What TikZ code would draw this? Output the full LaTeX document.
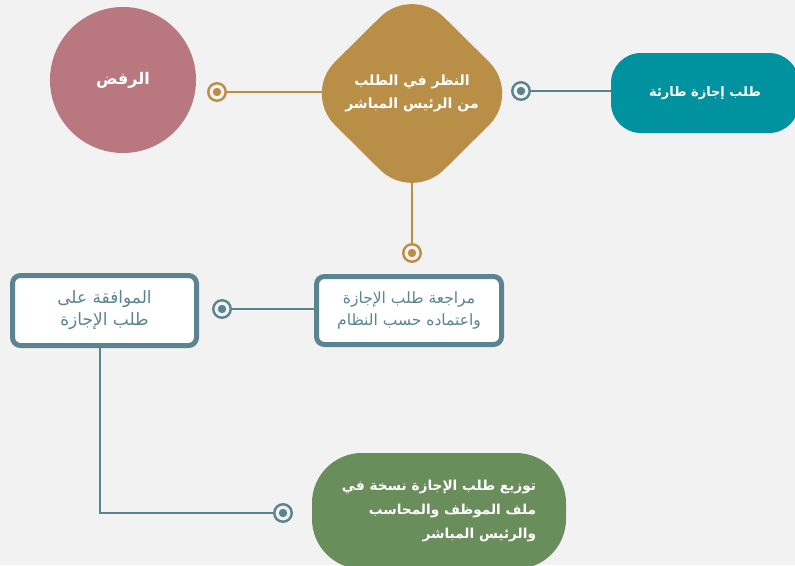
\documentclass[tikz,border=0pt]{standalone}
\usepackage{fontspec}
\newfontfamily\arabicfont[Script=Arabic]{DejaVu Sans}
\TeXXeTstate=1
\usetikzlibrary{shapes.geometric}
\pgfdeclarelayer{canvas}
\pgfdeclarelayer{edges}
\pgfsetlayers{canvas,edges,main}

\definecolor{bgc}{HTML}{F2F2F2}
\definecolor{rose}{HTML}{B97880}
\definecolor{gold}{HTML}{B98F48}
\definecolor{tealc}{HTML}{00939F}
\definecolor{slate}{HTML}{5B8491}
\definecolor{olive}{HTML}{6A8E5B}

\newcommand\rl[1]{\beginR #1\endR}

\tikzset{
  solidshape/.style={fill=#1, text=white, font=\arabicfont\bfseries\fontsize{14}{23}\selectfont, align=center, inner sep=0pt},
  outlinebox/.style={draw=slate, line width=5pt, fill=white, rounded corners=8pt, text=slate,
    font=\arabicfont\fontsize{15.5}{22}\selectfont, align=center, inner sep=0pt},
  marker/.style={circle, draw=#1, line width=2.4pt, fill=bgc, minimum size=17.5pt, inner sep=0pt,
    path picture={\fill[#1] (path picture bounding box.center) circle (4.2pt);}},
  conn/.style={draw=#1, line width=2pt}
}

\begin{document}
\begin{tikzpicture}[x=1pt,y=-1pt]
\useasboundingbox (0,0) rectangle (795,565);
\begin{pgfonlayer}{canvas}
  \fill[bgc] (0,0) rectangle (795,565);
\end{pgfonlayer}
\clip (0,0) rectangle (795,565);

% coloured stages
\node[solidshape=rose, circle, minimum size=146pt, font=\arabicfont\bfseries\fontsize{16}{20}\selectfont]
  (reject) at (123,80) {\rl{الرفض}};
\node[solidshape=gold, diamond, minimum width=218pt, minimum height=216pt, rounded corners=45pt]
  (review) at (412,93.5) {\rl{النظر في الطلب}\\\rl{من الرئيس المباشر}};
\node[solidshape=tealc, rectangle, minimum width=188pt, minimum height=80pt, rounded corners=30pt,
  font=\arabicfont\bfseries\fontsize{13}{20}\selectfont]
  (request) at (705,93) {\rl{طلب إجازة طارئة}};
\node[solidshape=olive, rectangle, minimum width=254pt, minimum height=116pt, rounded corners=50pt, align=right,
  font=\arabicfont\bfseries\fontsize{13.7}{24}\selectfont]
  (distribute) at (439,511) {\rl{توزيع طلب الإجازة نسخة في}\\\rl{ملف الموظف والمحاسب}\\\rl{والرئيس المباشر}};

% outlined stages
\node[outlinebox, minimum width=185pt, minimum height=68pt] (check) at (409,310.5)
  {\rl{مراجعة طلب الإجازة}\\\rl{واعتماده حسب النظام}};
\node[outlinebox, minimum width=184pt, minimum height=70pt, font=\arabicfont\fontsize{17}{22}\selectfont]
  (approve) at (104.5,310.5)
  {\rl{الموافقة على}\\\rl{طلب الإجازة}};

% connector end markers
\node[marker=gold] (m1) at (217,92) {};
\node[marker=slate] (m2) at (521,91) {};
\node[marker=gold] (m3) at (412,253) {};
\node[marker=slate] (m4) at (222,309) {};
\node[marker=slate] (m5) at (283,513) {};

% connectors
\begin{pgfonlayer}{edges}
  \draw[conn=gold] (m1.center) -- (m1.center -| review.center);
  \draw[conn=slate] (m2.center) -- (m2.center -| request.center);
  \draw[conn=gold] (review.center) -- (m3.center);
  \draw[conn=slate] (m4.center) -- (m4.center -| check.center);
  \draw[conn=slate] ([xshift=-4.5pt]approve.center) |- (m5.center);
\end{pgfonlayer}
\end{tikzpicture}
\end{document}
